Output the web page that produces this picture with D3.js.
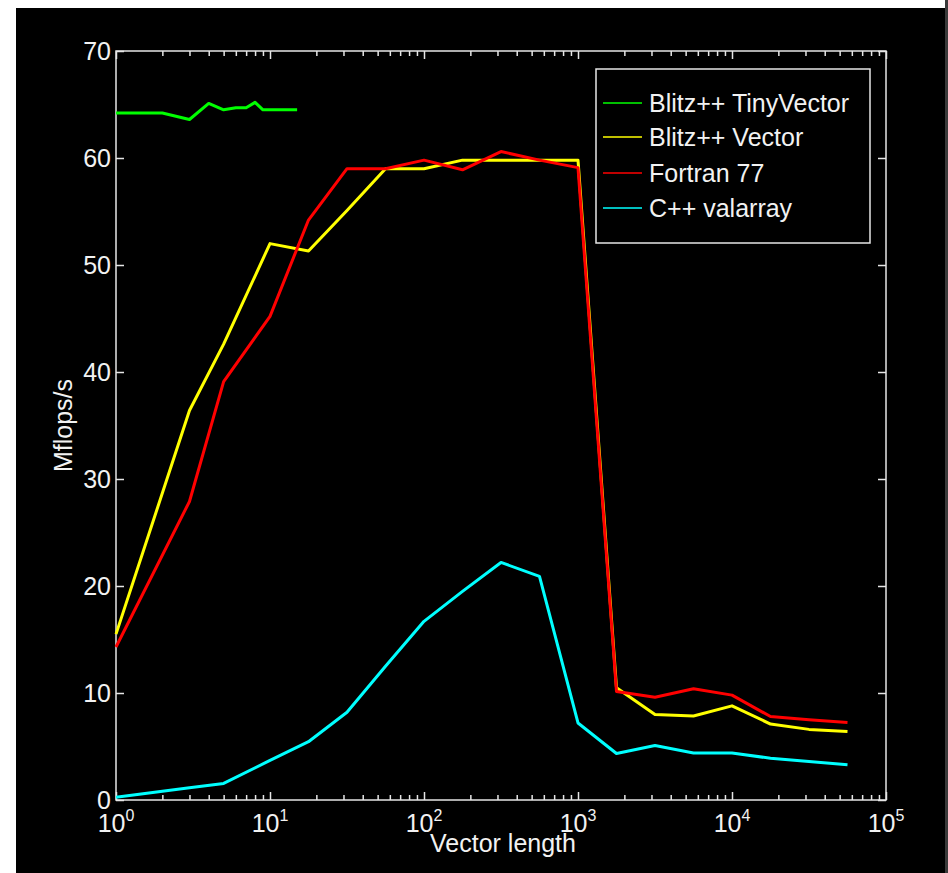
<!DOCTYPE html>
<html>
<head>
<meta charset="utf-8">
<script src="https://cdn.jsdelivr.net/npm/d3@7"></script>
<style>
  html, body { margin: 0; padding: 0; background: #ffffff; }
  svg { display: block; }
  text { font-family: "Liberation Sans", Arial, Helvetica, sans-serif; fill: #f2f2f2; }
</style>
</head>
<body>
<svg id="chart" width="948" height="873"></svg>
<script>
// ---- Data ----
const xLengths = [1, 3, 5, 10, 17.78, 31.62, 56.23, 100, 177.8, 316.2, 562.3, 1000, 1778, 3162, 5623, 10000, 17783, 31623, 56234];
const tinyX = [1, 2, 3, 4, 5, 6, 7, 8, 9, 10, 11, 12, 13, 14, 15];
const tinyVector = [64.2, 64.2, 63.6, 65.1, 64.5, 64.7, 64.7, 65.2, 64.5, 64.5, 64.5, 64.5, 64.5, 64.5, 64.5];
const blitzVector = [15.5, 36.4, 42.6, 52.0, 51.3, 55.1, 59.0, 59.0, 59.8, 59.8, 59.8, 59.8, 10.5, 8.0, 7.85, 8.8, 7.1, 6.6, 6.4];
const fortran77 = [14.3, 27.9, 39.1, 45.2, 54.2, 59.0, 59.0, 59.8, 58.9, 60.6, 59.8, 59.1, 10.15, 9.6, 10.4, 9.8, 7.8, 7.5, 7.25];
const valarray = [0.25, 1.15, 1.55, 3.7, 5.45, 8.2, 12.5, 16.7, 19.5, 22.2, 20.9, 7.2, 4.35, 5.1, 4.4, 4.4, 3.9, 3.6, 3.3];
const seriesNames = ["Blitz++ TinyVector", "Blitz++ Vector", "Fortran 77", "C++ valarray"];
const seriesColors = ["#00ff00", "#ffff00", "#ff0000", "#00ffff"];
const yTicks = [0, 10, 20, 30, 40, 50, 60, 70];
const xMajorTicks = [1, 10, 100, 1000, 10000, 100000];
const xExponents = ["0", "1", "2", "3", "4", "5"];
const xTitle = "Vector length";
const yTitle = "Mflops/s";

// ---- Layout ----
const svg = d3.select("#chart");
const L = 116, R = 886, T = 51, B = 800;
const axisColor = "#e6e6e6";

// background frame: white margins, black figure
svg.append("rect").attr("x", 0).attr("y", 0).attr("width", 948).attr("height", 873).attr("fill", "#ffffff");
svg.append("rect").attr("x", 16).attr("y", 8).attr("width", 929).attr("height", 865).attr("fill", "#000000");
svg.append("rect").attr("x", 945).attr("y", 0).attr("width", 3).attr("height", 873).attr("fill", "#3a3a3a");

const x = d3.scaleLog().domain([1, 1e5]).range([L, R]);
const y = d3.scaleLinear().domain([0, 70]).range([B, T]);

// minor tick positions 2..9 per decade
const xMinor = [];
for (let d = 1; d < 1e5; d *= 10) for (let k = 2; k <= 9; k++) xMinor.push(d * k);

function styleAxis(g) {
  g.select(".domain").remove();
  g.selectAll(".tick line").attr("stroke", axisColor).attr("stroke-width", 1.5);
  g.selectAll(".tick text").remove();
}

// bottom
svg.append("g").attr("transform", `translate(0,${B})`)
  .call(d3.axisBottom(x).tickValues(xMajorTicks).tickSize(-8).tickFormat("")).call(styleAxis);
svg.append("g").attr("transform", `translate(0,${B})`)
  .call(d3.axisBottom(x).tickValues(xMinor).tickSize(-5).tickFormat("")).call(styleAxis);
// top
svg.append("g").attr("transform", `translate(0,${T})`)
  .call(d3.axisTop(x).tickValues(xMajorTicks).tickSize(-8).tickFormat("")).call(styleAxis);
svg.append("g").attr("transform", `translate(0,${T})`)
  .call(d3.axisTop(x).tickValues(xMinor).tickSize(-5).tickFormat("")).call(styleAxis);
// left
svg.append("g").attr("transform", `translate(${L},0)`)
  .call(d3.axisLeft(y).tickValues(yTicks).tickSize(-8).tickFormat("")).call(styleAxis);
// right
svg.append("g").attr("transform", `translate(${R},0)`)
  .call(d3.axisRight(y).tickValues(yTicks).tickSize(-8).tickFormat("")).call(styleAxis);

// plot box
svg.append("rect").attr("x", L).attr("y", T).attr("width", R - L).attr("height", B - T)
  .attr("fill", "none").attr("stroke", axisColor).attr("stroke-width", 1.5);

// y tick labels
svg.append("g").selectAll("text").data(yTicks).join("text")
  .attr("x", L - 5).attr("y", d => y(d)).attr("dy", "0.36em")
  .attr("text-anchor", "end").attr("font-size", 25).text(d => d);

// x tick labels: 10 with superscript exponent
const xl = svg.append("g").selectAll("text").data(xMajorTicks).join("text")
  .attr("x", d => x(d)).attr("y", 832).attr("text-anchor", "middle").attr("font-size", 25);
xl.append("tspan").text("10");
xl.append("tspan").attr("dy", -11).attr("font-size", 16).text((d, i) => xExponents[i]);

// axis titles
svg.append("text").attr("x", (L + R) / 2 + 2).attr("y", 852).attr("text-anchor", "middle")
  .attr("font-size", 25).text(xTitle);
svg.append("text").attr("transform", `translate(72,${(T + B) / 2}) rotate(-90)`)
  .attr("text-anchor", "middle").attr("font-size", 25).text(yTitle);

// lines
const line = d3.line().x(d => x(d[0])).y(d => y(d[1]));
const series = [
  { xs: tinyX, ys: tinyVector },
  { xs: xLengths, ys: blitzVector },
  { xs: xLengths, ys: fortran77 },
  { xs: xLengths, ys: valarray }
];
const plot = svg.append("g");
// draw valarray first, then tiny, yellow, red on top (red over yellow as in reference)
[3, 0, 1, 2].forEach(i => {
  const s = series[i];
  plot.append("path")
    .datum(s.xs.map((v, j) => [v, s.ys[j]]))
    .attr("d", line).attr("fill", "none")
    .attr("stroke", seriesColors[i]).attr("stroke-width", 3)
    .attr("stroke-linejoin", "round");
});

// legend
const lg = svg.append("g");
lg.append("rect").attr("x", 596).attr("y", 69).attr("width", 274).attr("height", 174)
  .attr("fill", "#000000").attr("stroke", axisColor).attr("stroke-width", 1.5);
const legendY = [103, 137, 173, 208];
seriesNames.forEach((name, i) => {
  lg.append("line").attr("x1", 603).attr("x2", 642).attr("y1", legendY[i]).attr("y2", legendY[i])
    .attr("stroke", seriesColors[i]).attr("stroke-width", 1.5);
  lg.append("text").attr("x", 649).attr("y", legendY[i]).attr("dy", "0.36em")
    .attr("font-size", 25).text(name);
});
</script>
</body>
</html>
